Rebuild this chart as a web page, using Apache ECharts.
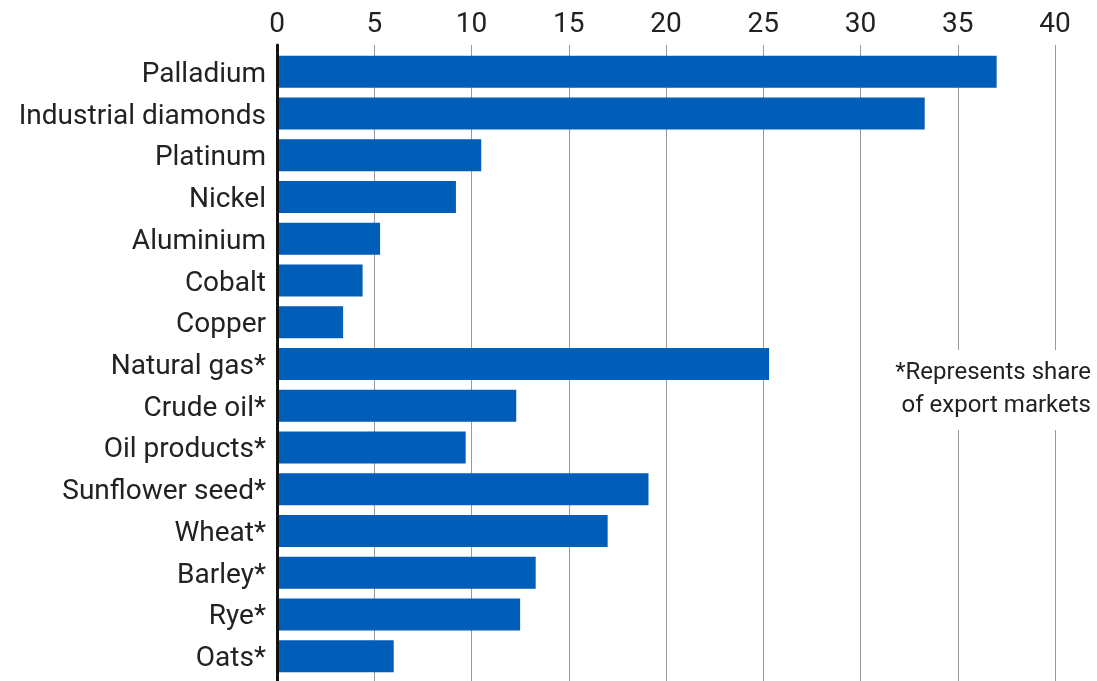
<!DOCTYPE html>
<html>
<head>
<meta charset="utf-8">
<script src="https://cdn.jsdelivr.net/npm/echarts@6/dist/echarts.min.js"></script>
<style>
html, body { margin: 0; padding: 0; background: #fff; }
#main { width: 1097px; height: 681px; }
</style>
</head>
<body>
<div id="main"></div>
<script>
// commodities, top to bottom
var categories = ['Palladium', 'Industrial diamonds', 'Platinum', 'Nickel', 'Aluminium', 'Cobalt', 'Copper',
    'Natural gas*', 'Crude oil*', 'Oil products*', 'Sunflower seed*', 'Wheat*', 'Barley*', 'Rye*', 'Oats*'];
var shares = [37.0, 33.3, 10.5, 9.2, 5.3, 4.4, 3.4, 25.3, 12.3, 9.7, 19.1, 17.0, 13.3, 12.5, 6.0];
var footnote = ['*Represents share', 'of export markets'];

var FONT = 'Roboto';
var chart = echarts.init(document.getElementById('main'));

var option = {
    backgroundColor: '#fff',
    animation: false,
    grid: [
        // grid 0 only draws the top axis + gridlines (a bit taller than the bars)
        { left: 277, right: 42, top: 45, bottom: 0 },
        { left: 277, right: 42, top: 51, bottom: 4 }
    ],
    xAxis: [
        {
            gridIndex: 0,
            type: 'value',
            position: 'top',
            min: 0,
            max: 40,
            interval: 5,
            axisLine: { show: false },
            axisTick: { show: false },
            axisLabel: { fontFamily: FONT, fontSize: 28, color: '#222', margin: 6 },
            splitLine: { show: true, lineStyle: { color: '#999', width: 1 } }
        },
        {
            gridIndex: 1,
            type: 'value',
            min: 0,
            max: 40,
            show: false
        }
    ],
    yAxis: [
        {
            gridIndex: 0,
            type: 'category',
            data: categories,
            z: 10,
            axisLine: { show: true, lineStyle: { color: '#111', width: 3 } },
            axisTick: { show: false },
            axisLabel: { show: false }
        },
        {
            gridIndex: 1,
            type: 'category',
            data: categories,
            inverse: true,
            axisLine: { show: false },
            axisTick: { show: false },
            axisLabel: {
                margin: 11,
                formatter: '{a|{value}}',
                rich: {
                    a: { fontFamily: FONT, fontSize: 28, color: '#222', padding: [6, 0, 0, 0] }
                }
            }
        }
    ],
    series: [
        {
            type: 'bar',
            xAxisIndex: 1,
            yAxisIndex: 1,
            data: shares,
            barWidth: 32,
            itemStyle: { color: '#005db8' }
        }
    ],
    graphic: [
        {
            type: 'rect',
            shape: { x: 890, y: 350, width: 207, height: 80 },
            style: { fill: '#fff' },
            z: 50
        },
        {
            type: 'text',
            x: 1091,
            y: 373,
            z: 51,
            style: {
                text: footnote[0],
                font: '24px ' + FONT,
                fill: '#222',
                textAlign: 'right',
                textVerticalAlign: 'middle'
            }
        },
        {
            type: 'text',
            x: 1091,
            y: 406,
            z: 51,
            style: {
                text: footnote[1],
                font: '24px ' + FONT,
                fill: '#222',
                textAlign: 'right',
                textVerticalAlign: 'middle'
            }
        }
    ]
};

chart.setOption(option);
</script>
</body>
</html>
